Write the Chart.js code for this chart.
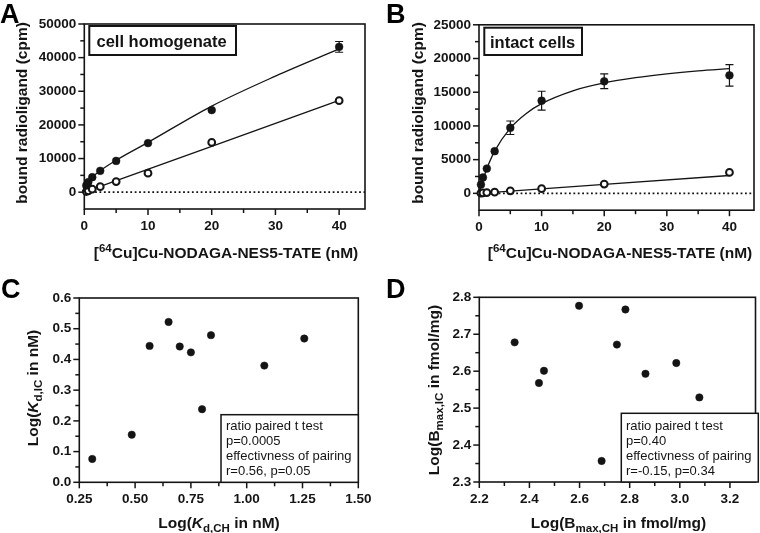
<!DOCTYPE html>
<html><head><meta charset="utf-8">
<script src="https://cdn.jsdelivr.net/npm/chart.js@4.4.1/dist/chart.umd.min.js"></script>
<style>
html,body{margin:0;padding:0;background:#fff;}
#wrap{position:relative;width:760px;height:533px;overflow:hidden;background:#fff;}
canvas{position:absolute;left:0;top:0;}
</style></head>
<body><div id="wrap">
<canvas id="cA" width="760" height="533"></canvas>
<canvas id="cB" width="760" height="533"></canvas>
<canvas id="cC" width="760" height="533"></canvas>
<canvas id="cD" width="760" height="533"></canvas>
</div>
<script>
// ---------- data ----------
const concentrations = [0.3125, 0.625, 1.25, 2.5, 5, 10, 20, 40];   // nM
// A: cell homogenate
const homTotal      = [2000, 3000, 4450, 6350, 9300, 14600, 24400, 43200];
const homTotalErr   = [0, 0, 0, 0, 0, 0, 0, 1600];
const homNonspec    = [200, 400, 900, 1650, 3150, 5650, 14800, 27200];
const homFitX       = [0.3125, 0.625, 1.25, 2.5, 5, 10, 20, 30, 40];
const homTotalFit   = [1800, 2900, 4400, 6400, 9500, 14800, 25600, 34500, 42600];
const homNsFitX     = [0, 40];
const homNsFit      = [0, 27300];
// B: intact cells
const cellTotal     = [1300, 2350, 3680, 6250, 9730, 13740, 16620, 17500];
const cellTotalErr  = [0, 0, 0, 0, 1000, 1400, 1100, 1600];
const cellNonspec   = [30, 60, 120, 180, 380, 700, 1380, 3110];
const cellFitX      = [0, 0.3125, 0.625, 1.25, 2.5, 5, 7.5, 10, 15, 20, 25, 30, 35, 40];
const cellTotalFit  = [0, 1050, 2000, 3660, 6260, 9670, 11820, 13300, 15200, 16370, 17150, 17730, 18170, 18500];
const cellNsFitX    = [0, 40];
const cellNsFit     = [0, 2650];
// C: log Kd
const logKdCH = [0.308, 0.485, 0.565, 0.650, 0.700, 0.750, 0.800, 0.840, 1.079, 1.258];
const logKdIC = [0.076, 0.155, 0.444, 0.522, 0.442, 0.423, 0.238, 0.479, 0.380, 0.468];
// D: log Bmax
const logBmaxCH = [2.341, 2.438, 2.458, 2.598, 2.688, 2.749, 2.783, 2.863, 2.986, 3.078];
const logBmaxIC = [2.678, 2.568, 2.601, 2.777, 2.357, 2.672, 2.767, 2.593, 2.622, 2.529];
// tick values
const ticksAx = [0, 10, 20, 30, 40],  minorAx = [5, 15, 25, 35];
const ticksAy = [0, 10000, 20000, 30000, 40000, 50000], minorAy = [5000, 15000, 25000, 35000, 45000];
const ticksBx = [0, 10, 20, 30, 40],  minorBx = [5, 15, 25, 35];
const ticksBy = [0, 5000, 10000, 15000, 20000, 25000], minorBy = [2500, 7500, 12500, 17500, 22500];
const ticksCx = [0.25, 0.5, 0.75, 1.0, 1.25, 1.5], minorCx = [0.375, 0.625, 0.875, 1.125, 1.375];
const ticksCy = [0, 0.1, 0.2, 0.3, 0.4, 0.5, 0.6], minorCy = [0.05, 0.15, 0.25, 0.35, 0.45, 0.55];
const ticksDx = [2.2, 2.4, 2.6, 2.8, 3.0, 3.2], minorDx = [2.3, 2.5, 2.7, 2.9, 3.1];
const ticksDy = [2.3, 2.4, 2.5, 2.6, 2.7, 2.8], minorDy = [2.35, 2.45, 2.55, 2.65, 2.75];
// texts
const statsC = ['ratio paired t test', 'p=0.0005', 'effectivness of pairing', 'r=0.56, p=0.05'];
const statsD = ['ratio paired t test', 'p=0.40', 'effectivness of pairing', 'r=-0.15, p=0.34'];

// ---------- drawing ----------
const F = '"Liberation Sans", Arial, Helvetica, sans-serif';
const INK = '#141414';
const TF = 'bold 15.5px ' + F, SF = 'bold 11.5px ' + F;
const toXY = (xs, ys) => xs.map((x, i) => ({x: x, y: ys[i]}));

function drawRich(ctx, runs, cx, base, rot) {
  ctx.save();
  ctx.translate(cx, base);
  if (rot) ctx.rotate(-Math.PI / 2);
  let w = 0;
  runs.forEach(r => { ctx.font = r.f; w += ctx.measureText(r.t).width; });
  let x = -w / 2;
  ctx.fillStyle = INK; ctx.textAlign = 'left'; ctx.textBaseline = 'alphabetic';
  runs.forEach(r => { ctx.font = r.f; ctx.fillText(r.t, x, r.dy || 0); x += ctx.measureText(r.t).width; });
  ctx.restore();
}

const panelPlugin = {
  id: 'panel',
  beforeDatasetsDraw(chart, args, o) {
    const ctx = chart.ctx, a = chart.chartArea, xs = chart.scales.x, ys = chart.scales.y;
    ctx.save();
    ctx.strokeStyle = INK; ctx.lineWidth = 1.6;
    ctx.strokeRect(a.left, a.top, a.right - a.left, a.bottom - a.top);
    const tick = (vals, len, horiz) => vals.forEach(v => {
      ctx.beginPath();
      if (horiz) { const p = xs.getPixelForValue(v); ctx.moveTo(p, a.bottom); ctx.lineTo(p, a.bottom + len); }
      else { const p = ys.getPixelForValue(v); ctx.moveTo(a.left, p); ctx.lineTo(a.left - len, p); }
      ctx.stroke();
    });
    ctx.lineWidth = 1.5;
    tick(o.majorX, 6, true); tick(o.minorX, 4, true);
    tick(o.majorY, 6, false); tick(o.minorY, 4, false);
    if (o.zeroLine) {
      const p = ys.getPixelForValue(0);
      ctx.setLineDash([1.8, 2.6]); ctx.lineWidth = 1.8;
      ctx.beginPath(); ctx.moveTo(a.left + 2, p); ctx.lineTo(a.right, p); ctx.stroke();
      ctx.setLineDash([]);
    }
    if (o.errors) {
      ctx.lineWidth = 1.2;
      o.errors.forEach(e => {
        const ds = chart.data.datasets[e.ds];
        ds.data.forEach((d, i) => {
          if (!e.err[i]) return;
          const px = xs.getPixelForValue(d.x);
          const hi = ys.getPixelForValue(d.y + e.err[i]), lo = ys.getPixelForValue(d.y - e.err[i]);
          ctx.beginPath();
          ctx.moveTo(px, hi); ctx.lineTo(px, lo);
          ctx.moveTo(px - 4, hi); ctx.lineTo(px + 4, hi);
          ctx.moveTo(px - 4, lo); ctx.lineTo(px + 4, lo);
          ctx.stroke();
        });
      });
    }
    ctx.restore();
  },
  afterDraw(chart, args, o) {
    const ctx = chart.ctx;
    ctx.save();
    ctx.fillStyle = '#000'; ctx.font = 'bold 27px ' + F; ctx.textAlign = 'left'; ctx.textBaseline = 'alphabetic';
    ctx.fillText(o.letter.t, o.letter.x, o.letter.y);
    drawRich(ctx, o.xTitle.runs, o.xTitle.cx, o.xTitle.base, false);
    drawRich(ctx, o.yTitle.runs, o.yTitle.base, o.yTitle.cy, true);
    if (o.labelBox) {
      const b = o.labelBox;
      ctx.fillStyle = '#fff'; ctx.fillRect(b.x, b.y, b.w, b.h);
      ctx.strokeStyle = INK; ctx.lineWidth = 2; ctx.strokeRect(b.x, b.y, b.w, b.h);
      ctx.fillStyle = INK; ctx.font = 'bold 16.5px ' + F; ctx.textAlign = 'left';
      ctx.fillText(b.text, b.tx, b.ty);
    }
    if (o.statBox) {
      const b = o.statBox;
      ctx.fillStyle = '#fff'; ctx.fillRect(b.x, b.y, b.w, b.h);
      ctx.strokeStyle = INK; ctx.lineWidth = 1.5; ctx.strokeRect(b.x, b.y, b.w, b.h);
      ctx.fillStyle = INK; ctx.font = '13px ' + F; ctx.textAlign = 'left';
      b.lines.forEach((t, i) => ctx.fillText(t, b.tx, b.ty + i * 15));
    }
    ctx.restore();
  }
};

function makeChart(id, c) {
  const YW = 60, XH = 30;
  const area = c.area;
  const tickFont = {family: F, size: 13.5, weight: 'bold'};
  new Chart(document.getElementById(id), {
    type: 'scatter',
    data: {datasets: c.datasets},
    plugins: [panelPlugin],
    options: {
      responsive: false, animation: false, devicePixelRatio: 1,
      layout: {padding: {left: area.l - YW, right: 760 - area.r, top: area.t, bottom: 533 - area.b - XH}},
      plugins: {legend: {display: false}, tooltip: {enabled: false}, panel: c.panel},
      scales: {
        x: {
          type: 'linear', min: c.x.min, max: c.x.max,
          grid: {display: false, drawTicks: true, tickLength: 6}, border: {display: false},
          afterBuildTicks: s => { s.ticks = c.x.ticks.map(v => ({value: v})); },
          afterFit: s => { s.height = XH; },
          ticks: {autoSkip: false, maxRotation: 0, color: INK, font: tickFont, padding: 3, callback: c.x.fmt}
        },
        y: {
          type: 'linear', min: c.y.min, max: c.y.max,
          grid: {display: false, drawTicks: true, tickLength: 6}, border: {display: false},
          afterBuildTicks: s => { s.ticks = c.y.ticks.map(v => ({value: v})); },
          afterFit: s => { s.width = YW; },
          ticks: {autoSkip: false, color: INK, font: tickFont, padding: 2, callback: c.y.fmt}
        }
      }
    }
  });
}

const filled = (data) => ({data, pointRadius: 3.9, pointBackgroundColor: INK, pointBorderColor: INK, pointBorderWidth: 0.5, showLine: false, clip: false});
const open = (data) => ({data, pointRadius: 3.4, pointBackgroundColor: '#fff', pointBorderColor: INK, pointBorderWidth: 2, showLine: false, clip: false});
const curve = (data) => ({data, showLine: true, pointRadius: 0, borderColor: INK, borderWidth: 1.3, cubicInterpolationMode: 'monotone', fill: false, clip: false});
const intFmt = v => String(v);

makeChart('cA', {
  area: {l: 84.3, r: 365, t: 24, b: 209},
  x: {min: 0, max: 44.06, ticks: ticksAx, fmt: intFmt},
  y: {min: -5000, max: 50000, ticks: ticksAy, fmt: intFmt},
  datasets: [filled(toXY(concentrations, homTotal)), open(toXY(concentrations, homNonspec)),
             curve(toXY(homFitX, homTotalFit)), curve(toXY(homNsFitX, homNsFit))],
  panel: {
    majorX: ticksAx, minorX: minorAx, majorY: ticksAy, minorY: minorAy, zeroLine: true,
    errors: [{ds: 0, err: homTotalErr}],
    letter: {t: 'A', x: 0, y: 23},
    xTitle: {cx: 226, base: 258, runs: [{t: '[', f: TF}, {t: '64', f: SF, dy: -6}, {t: 'Cu]Cu-NODAGA-NES5-TATE (nM)', f: TF}]},
    yTitle: {base: 27, cy: 113, runs: [{t: 'bound radioligand (cpm)', f: TF}]},
    labelBox: {text: 'cell homogenate', x: 89.3, y: 26, w: 146.7, h: 29, tx: 96.5, ty: 46.5}
  }
});
makeChart('cB', {
  area: {l: 479, r: 759, t: 24.8, b: 210.2},
  x: {min: 0, max: 43.92, ticks: ticksBx, fmt: intFmt},
  y: {min: -2500, max: 25000, ticks: ticksBy, fmt: intFmt},
  datasets: [filled(toXY(concentrations, cellTotal)), open(toXY(concentrations, cellNonspec)),
             curve(toXY(cellFitX, cellTotalFit)), curve(toXY(cellNsFitX, cellNsFit))],
  panel: {
    majorX: ticksBx, minorX: minorBx, majorY: ticksBy, minorY: minorBy, zeroLine: true,
    errors: [{ds: 0, err: cellTotalErr}],
    letter: {t: 'B', x: 386, y: 23},
    xTitle: {cx: 620, base: 258, runs: [{t: '[', f: TF}, {t: '64', f: SF, dy: -6}, {t: 'Cu]Cu-NODAGA-NES5-TATE (nM)', f: TF}]},
    yTitle: {base: 422.5, cy: 113, runs: [{t: 'bound radioligand (cpm)', f: TF}]},
    labelBox: {text: 'intact cells', x: 484.3, y: 27.7, w: 97.7, h: 27.3, tx: 490, ty: 47.5}
  }
});
makeChart('cC', {
  area: {l: 79.3, r: 358.3, t: 298, b: 482.3},
  x: {min: 0.25, max: 1.5, ticks: ticksCx, fmt: v => v.toFixed(2)},
  y: {min: 0, max: 0.6, ticks: ticksCy, fmt: v => v.toFixed(1)},
  datasets: [Object.assign(filled(toXY(logKdCH, logKdIC)), {pointRadius: 3.7})],
  panel: {
    majorX: ticksCx, minorX: minorCx, majorY: ticksCy, minorY: minorCy, zeroLine: false,
    letter: {t: 'C', x: 1, y: 298},
    xTitle: {cx: 219, base: 528, runs: [{t: 'Log(', f: TF}, {t: 'K', f: 'italic ' + TF}, {t: 'd,CH', f: SF, dy: 4}, {t: ' in nM)', f: TF}]},
    yTitle: {base: 38, cy: 388, runs: [{t: 'Log(', f: TF}, {t: 'K', f: 'italic ' + TF}, {t: 'd,IC', f: SF, dy: 4}, {t: ' in nM)', f: TF}]},
    statBox: {lines: statsC, x: 221, y: 414.7, w: 137.3, h: 67.6, tx: 226, ty: 430}
  }
});
makeChart('cD', {
  area: {l: 479.3, r: 758.3, t: 297.3, b: 482},
  x: {min: 2.2, max: 3.302, ticks: ticksDx, fmt: v => v.toFixed(1)},
  y: {min: 2.3, max: 2.8, ticks: ticksDy, fmt: v => v.toFixed(1)},
  datasets: [Object.assign(filled(toXY(logBmaxCH, logBmaxIC)), {pointRadius: 3.7})],
  panel: {
    majorX: ticksDx, minorX: minorDx, majorY: ticksDy, minorY: minorDy, zeroLine: false,
    letter: {t: 'D', x: 386, y: 298},
    xTitle: {cx: 618.5, base: 527.5, runs: [{t: 'Log(B', f: TF}, {t: 'max,CH', f: SF, dy: 4}, {t: ' in fmol/mg)', f: TF}]},
    yTitle: {base: 438.5, cy: 390, runs: [{t: 'Log(B', f: TF}, {t: 'max,IC', f: SF, dy: 4}, {t: ' in fmol/mg)', f: TF}]},
    statBox: {lines: statsD, x: 621.3, y: 413.3, w: 137, h: 68.7, tx: 626, ty: 430}
  }
});
</script></body></html>
